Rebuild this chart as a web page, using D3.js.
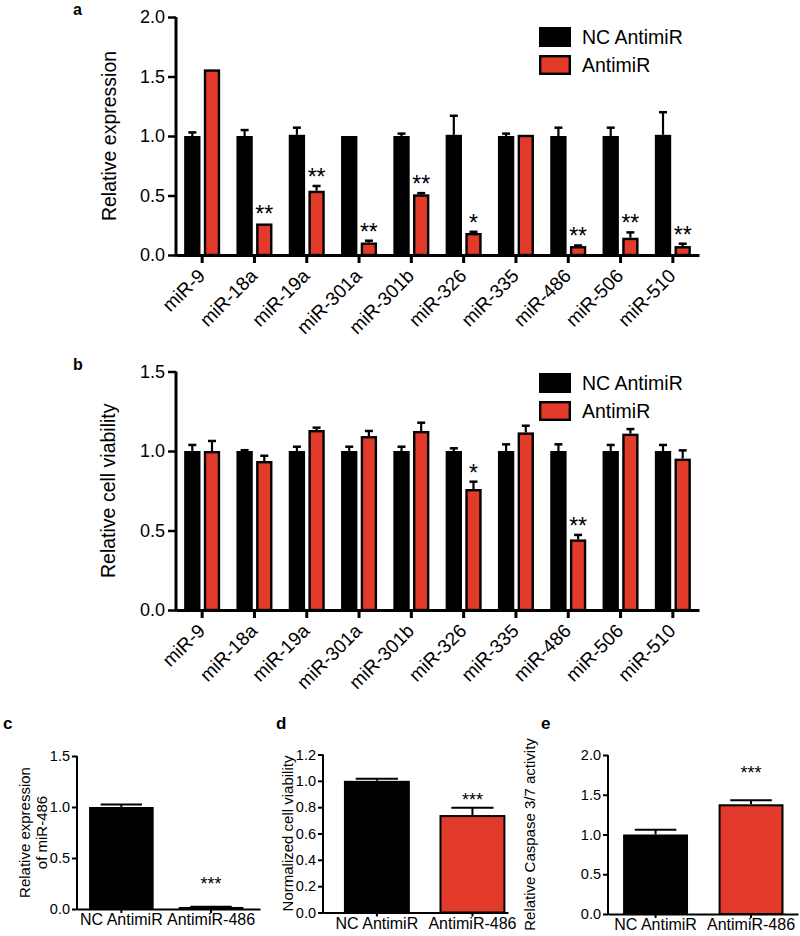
<!DOCTYPE html>
<html>
<head>
<meta charset="utf-8">
<script src="https://cdn.jsdelivr.net/npm/d3@7"></script>
<style>
  html, body { margin: 0; padding: 0; background: #fff; }
  svg { display: block; font-family: "Liberation Sans", Arial, Helvetica, sans-serif; }
</style>
</head>
<body>
<svg id="chart" width="800" height="936"></svg>
<script>
// ---------------- DATA ----------------
const categories = ["miR-9", "miR-18a", "miR-19a", "miR-301a", "miR-301b", "miR-326", "miR-335", "miR-486", "miR-506", "miR-510"];
const seriesNames = ["NC AntimiR", "AntimiR"];

// Panel a: relative expression
const exprNC      = [1.00, 1.00, 1.01, 1.00, 1.00, 1.01, 1.00, 1.00, 1.00, 1.01];
const exprNCErr   = [0.03, 0.05, 0.06, 0.00, 0.02, 0.16, 0.02, 0.07, 0.07, 0.19];
const exprAnti    = [1.56, 0.265, 0.54, 0.105, 0.51, 0.185, 1.01, 0.075, 0.145, 0.075];
const exprAntiErr = [0.00, 0.00, 0.04, 0.015, 0.01, 0.01, 0.00, 0.005, 0.045, 0.02];
const exprSig     = ["", "**", "**", "**", "**", "*", "", "**", "**", "**"];
const exprTicks   = [0, 0.5, 1.0, 1.5, 2.0];

// Panel b: relative cell viability
const viabNC      = [1.00, 1.00, 1.00, 1.00, 1.00, 1.00, 1.00, 1.00, 1.00, 1.00];
const viabNCErr   = [0.038, 0.005, 0.027, 0.027, 0.027, 0.017, 0.042, 0.042, 0.038, 0.038];
const viabAnti    = [1.00, 0.937, 1.132, 1.094, 1.126, 0.761, 1.117, 0.444, 1.109, 0.952];
const viabAntiErr = [0.063, 0.033, 0.015, 0.032, 0.052, 0.046, 0.042, 0.028, 0.029, 0.052];
const viabSig     = ["", "", "", "", "", "*", "", "**", "", ""];
const viabTicks   = [0, 0.5, 1.0, 1.5];

// Panels c, d, e
const pairGroups  = ["NC AntimiR", "AntimiR-486"];
const miR486Expr    = [1.00, 0.02];
const miR486ExprErr = [0.025, 0.003];
const miR486Ticks   = [0, 0.5, 1.0, 1.5];
const miR486SigLevel = 0.28;

const normViab      = [1.00, 0.74];
const normViabErr   = [0.015, 0.055];
const normViabTicks = [0, 0.2, 0.4, 0.6, 0.8, 1.0, 1.2];
const normViabSigLevel = 0.885;

const caspase       = [1.00, 1.38];
const caspaseErr    = [0.06, 0.05];
const caspaseTicks  = [0, 0.5, 1.0, 1.5, 2.0];
const caspaseSigLevel = 1.82;

const pairSig = ["", "***"];

// ---------------- STYLE ----------------
const RED = "#e23a2b";
const BLACK = "#000";
const FONT = "Liberation Sans, Arial, sans-serif";
const colors = [BLACK, RED];
const svg = d3.select("#chart");

// ---------------- GROUPED PANELS (a, b) ----------------
function drawGrouped(cfg) {
  const g = svg.append("g");
  const x = d3.scaleBand().domain(categories).range([cfg.x0, cfg.x1]).padding(0);
  const y = d3.scaleLinear().domain(cfg.domain).range([cfg.yBottom, cfg.yTop]);
  const inner = d3.scaleBand().domain(seriesNames).range([-18, 18]).paddingInner(0.17);

  const series = [
    { name: seriesNames[0], vals: cfg.nc, errs: cfg.ncErr },
    { name: seriesNames[1], vals: cfg.anti, errs: cfg.antiErr }
  ];

  series.forEach((s, si) => {
    const bw = inner.bandwidth();
    const sg = g.append("g");
    categories.forEach((c, i) => {
      const cx = x(c) + x.bandwidth() / 2 + inner(s.name);
      const v = s.vals[i], e = s.errs[i];
      if (e > 0) {
        sg.append("line")
          .attr("x1", cx + bw / 2).attr("x2", cx + bw / 2)
          .attr("y1", y(v)).attr("y2", y(v + e))
          .attr("stroke", BLACK).attr("stroke-width", 2.2);
        sg.append("line")
          .attr("x1", cx + bw / 2 - 4).attr("x2", cx + bw / 2 + 4)
          .attr("y1", y(v + e)).attr("y2", y(v + e))
          .attr("stroke", BLACK).attr("stroke-width", 2.5);
      }
      if (si === 0) {
        sg.append("rect")
          .attr("x", cx).attr("y", y(v))
          .attr("width", bw).attr("height", y(0) - y(v))
          .attr("fill", BLACK);
      } else {
        sg.append("rect")
          .attr("x", cx + 1.2).attr("y", y(v) + 1.2)
          .attr("width", bw - 2.4).attr("height", Math.max(0, y(0) - y(v) - 1.2))
          .attr("fill", RED).attr("stroke", BLACK).attr("stroke-width", 2.4);
      }
    });
  });

  categories.forEach((c, i) => {
    if (!cfg.sig[i]) return;
    const cx = x(c) + x.bandwidth() / 2 + inner(seriesNames[1]) + inner.bandwidth() / 2;
    g.append("text")
      .attr("x", cx).attr("y", y(cfg.anti[i] + cfg.antiErr[i]) - 1)
      .attr("text-anchor", "middle")
      .attr("font-size", 23)
      .text(cfg.sig[i]);
  });

  const yAxis = d3.axisLeft(y).tickValues(cfg.ticks).tickFormat(d3.format(".1f"))
    .tickSize(8).tickSizeOuter(0).tickPadding(3);
  const ya = g.append("g").attr("transform", `translate(${cfg.x0},0)`).call(yAxis);
  ya.select(".domain").attr("stroke-width", 3).attr("d", `M0,${cfg.yBottom + 1.5}V${cfg.yTop}`);
  ya.selectAll(".tick line").attr("stroke-width", 2.5);
  ya.selectAll(".tick text").attr("font-size", 18).attr("fill", BLACK).attr("font-family", FONT);

  const xAxis = d3.axisBottom(x).tickSize(8).tickSizeOuter(0);
  const xa = g.append("g").attr("transform", `translate(0,${cfg.yBottom})`).call(xAxis);
  xa.select(".domain").attr("stroke-width", 3);
  xa.selectAll(".tick line").attr("stroke-width", 3);
  xa.selectAll(".tick text")
    .attr("font-size", 19).attr("fill", BLACK).attr("font-family", FONT)
    .attr("text-anchor", "end")
    .attr("dy", null).attr("y", 0)
    .attr("transform", "translate(4,22) rotate(-45)");

  g.append("text")
    .attr("transform", `translate(${cfg.titleX},${(cfg.yBottom + cfg.yTop) / 2}) rotate(-90)`)
    .attr("text-anchor", "middle")
    .attr("font-size", 19.5)
    .text(cfg.title);

  const lg = g.append("g");
  seriesNames.forEach((n, i) => {
    const top = cfg.legendTop + i * 28;
    if (i === 0) {
      lg.append("rect").attr("x", 539).attr("y", top).attr("width", 32).attr("height", 20).attr("fill", BLACK);
    } else {
      lg.append("rect").attr("x", 540.2).attr("y", top + 1.2).attr("width", 29.6).attr("height", 17.6)
        .attr("fill", RED).attr("stroke", BLACK).attr("stroke-width", 2.4);
    }
    lg.append("text").attr("x", 582).attr("y", top + 17)
      .attr("font-size", 19.5).text(n);
  });

  g.append("text").attr("x", 73).attr("y", cfg.letterY)
    .attr("font-size", 16).attr("font-weight", "bold").text(cfg.letter);
}

drawGrouped({
  letter: "a", letterY: 14.5,
  x0: 176, x1: 699, yBottom: 255, yTop: 17, domain: [0, 2],
  nc: exprNC, ncErr: exprNCErr, anti: exprAnti, antiErr: exprAntiErr, sig: exprSig,
  ticks: exprTicks, title: "Relative expression", titleX: 116, legendTop: 27
});

drawGrouped({
  letter: "b", letterY: 370,
  x0: 176, x1: 699, yBottom: 610, yTop: 371.5, domain: [0, 1.5],
  nc: viabNC, ncErr: viabNCErr, anti: viabAnti, antiErr: viabAntiErr, sig: viabSig,
  ticks: viabTicks, title: "Relative cell viability", titleX: 115, legendTop: 373
});

// ---------------- PAIR PANELS (c, d, e) ----------------
function drawPair(cfg) {
  const g = svg.append("g");
  const x = d3.scaleBand().domain(pairGroups).range([cfg.x0, cfg.x1])
    .paddingInner(cfg.pi).paddingOuter(cfg.po).align(cfg.align);
  const y = d3.scaleLinear().domain(cfg.domain).range([cfg.yBottom, cfg.yTop]);
  const bw = x.bandwidth();

  pairGroups.forEach((grp, i) => {
    const v = cfg.vals[i], e = cfg.errs[i];
    const bx = x(grp);
    if (e > 0) {
      g.append("line").attr("x1", bx + bw / 2).attr("x2", bx + bw / 2)
        .attr("y1", y(v)).attr("y2", y(v + e)).attr("stroke", BLACK).attr("stroke-width", 2);
      g.append("line").attr("x1", bx + bw / 2 - bw * 0.32).attr("x2", bx + bw / 2 + bw * 0.32)
        .attr("y1", y(v + e)).attr("y2", y(v + e)).attr("stroke", BLACK).attr("stroke-width", 2);
    }
    g.append("rect")
      .attr("x", bx + 1).attr("y", y(v) + 1)
      .attr("width", bw - 2).attr("height", Math.max(0, y(0) - y(v) - 1))
      .attr("fill", colors[i]).attr("stroke", BLACK).attr("stroke-width", 2);
    if (cfg.sig[i]) {
      g.append("text").attr("x", bx + bw / 2).attr("y", y(cfg.sigLevel) + 10)
        .attr("text-anchor", "middle").attr("font-size", 18).text(cfg.sig[i]);
    }
  });

  const yAxis = d3.axisLeft(y).tickValues(cfg.ticks).tickFormat(d3.format(".1f"))
    .tickSize(5).tickSizeOuter(0).tickPadding(2);
  const ya = g.append("g").attr("transform", `translate(${cfg.x0},0)`).call(yAxis);
  ya.select(".domain").attr("stroke-width", 2).attr("d", `M0,${cfg.yBottom + 1}V${cfg.yTop}`);
  ya.selectAll(".tick line").attr("stroke-width", 2);
  ya.selectAll(".tick text").attr("font-size", 14.5).attr("fill", BLACK).attr("font-family", FONT);

  const xAxis = d3.axisBottom(x).tickSize(4).tickSizeOuter(0).tickPadding(1);
  const xa = g.append("g").attr("transform", `translate(0,${cfg.yBottom})`).call(xAxis);
  xa.select(".domain").attr("stroke-width", 2);
  xa.selectAll(".tick line").attr("stroke-width", 2);
  xa.selectAll(".tick text").attr("font-size", 16).attr("fill", BLACK).attr("font-family", FONT);

  cfg.title.forEach((t, li) => {
    g.append("text")
      .attr("transform", `translate(${cfg.titleX + li * 17},${(cfg.yBottom + cfg.yTop) / 2}) rotate(-90)`)
      .attr("text-anchor", "middle").attr("font-size", 15).text(t);
  });

  g.append("text").attr("x", cfg.letterX).attr("y", 729)
    .attr("font-size", 17).attr("font-weight", "bold").text(cfg.letter);
}

drawPair({
  letter: "c", letterX: 3,
  x0: 77, x1: 260, pi: 0.28, po: 0.16, align: 0.42,
  yBottom: 909, yTop: 756, domain: [0, 1.5],
  vals: miR486Expr, errs: miR486ExprErr, sig: pairSig, sigLevel: miR486SigLevel,
  ticks: miR486Ticks, title: ["Relative expression", "of miR-486"], titleX: 29.5
});

drawPair({
  letter: "d", letterX: 276,
  x0: 323, x1: 508, pi: 0.31, po: 0.123, align: 0.89,
  yBottom: 912.5, yTop: 754.5, domain: [0, 1.2],
  vals: normViab, errs: normViabErr, sig: pairSig, sigLevel: normViabSigLevel,
  ticks: normViabTicks, title: ["Normalized cell viability"], titleX: 293
});

drawPair({
  letter: "e", letterX: 541,
  x0: 608, x1: 798, pi: 0.32, po: 0.155, align: 0.51,
  yBottom: 914, yTop: 755, domain: [0, 2],
  vals: caspase, errs: caspaseErr, sig: pairSig, sigLevel: caspaseSigLevel,
  ticks: caspaseTicks, title: ["Relative Caspase 3/7 activity"], titleX: 535
});
</script>
</body>
</html>
